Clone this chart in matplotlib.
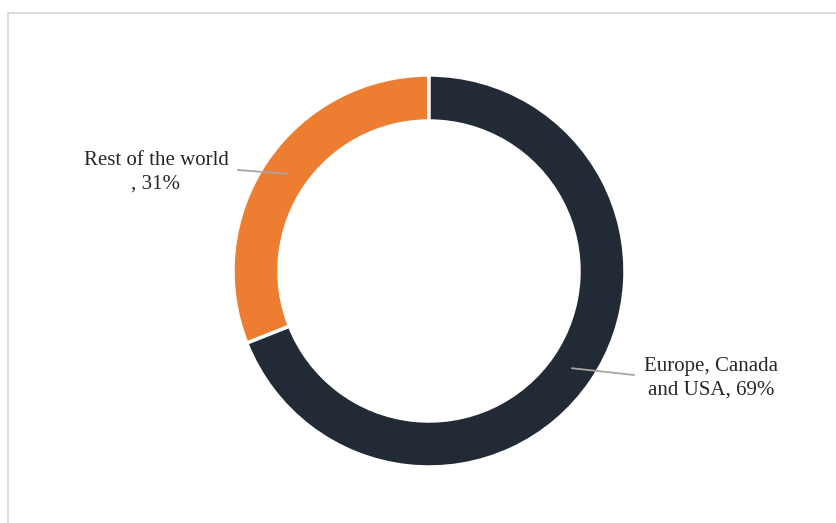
import numpy as np
import matplotlib
matplotlib.use('Agg')
import matplotlib.pyplot as plt
from matplotlib.lines import Line2D

# Regional revenue split
labels = ['Rest of the world\n, 31%', 'Europe, Canada\nand USA, 69%']
shares = [31, 69]
colors = ['#ED7D31', '#222A35']

W, H = 837, 523
fig = plt.figure(figsize=(W / 100, H / 100), dpi=100)
ax = fig.add_axes([0, 0, 1, 1])
ax.set_xlim(0, W)
ax.set_ylim(0, H)
ax.set_aspect('equal')
ax.axis('off')

# chart area frame (only top and left edges are visible)
fig.add_artist(Line2D([8.5 / W, 836 / W], [1 - 12.5 / H, 1 - 12.5 / H],
                      transform=fig.transFigure, color='#D9D9D9', lw=1.3))
fig.add_artist(Line2D([8.5 / W, 8.5 / W], [0, 1 - 12.5 / H],
                      transform=fig.transFigure, color='#D9D9D9', lw=1.3))

cx, cy = 429, H - 271
r_out, ring = 196, 46
wedges, _ = ax.pie(shares, colors=colors, startangle=90, counterclock=True,
                   radius=r_out, center=(cx, cy),
                   wedgeprops=dict(width=ring, edgecolor='white', linewidth=2.5))
ax.set_xlim(0, W)
ax.set_ylim(0, H)

# data labels with leader lines from the ring middle
text_pos = [(156, H - 172), (711, H - 378)]
line_end = [(238, H - 170), (634, H - 375)]
for w, lab, tp, le in zip(wedges, labels, text_pos, line_end):
    mid = np.deg2rad((w.theta1 + w.theta2) / 2)
    rm = r_out - ring / 2
    px, py = cx + rm * np.cos(mid), cy + rm * np.sin(mid)
    ax.plot([px, le[0]], [py, le[1]], color='#A6A6A6', lw=1.3)
    ax.text(tp[0], tp[1], lab, ha='center', va='center', fontsize=15,
            family='Liberation Serif', color='#262626', linespacing=1.3)

fig.savefig('out.png', dpi=100, facecolor='white')
